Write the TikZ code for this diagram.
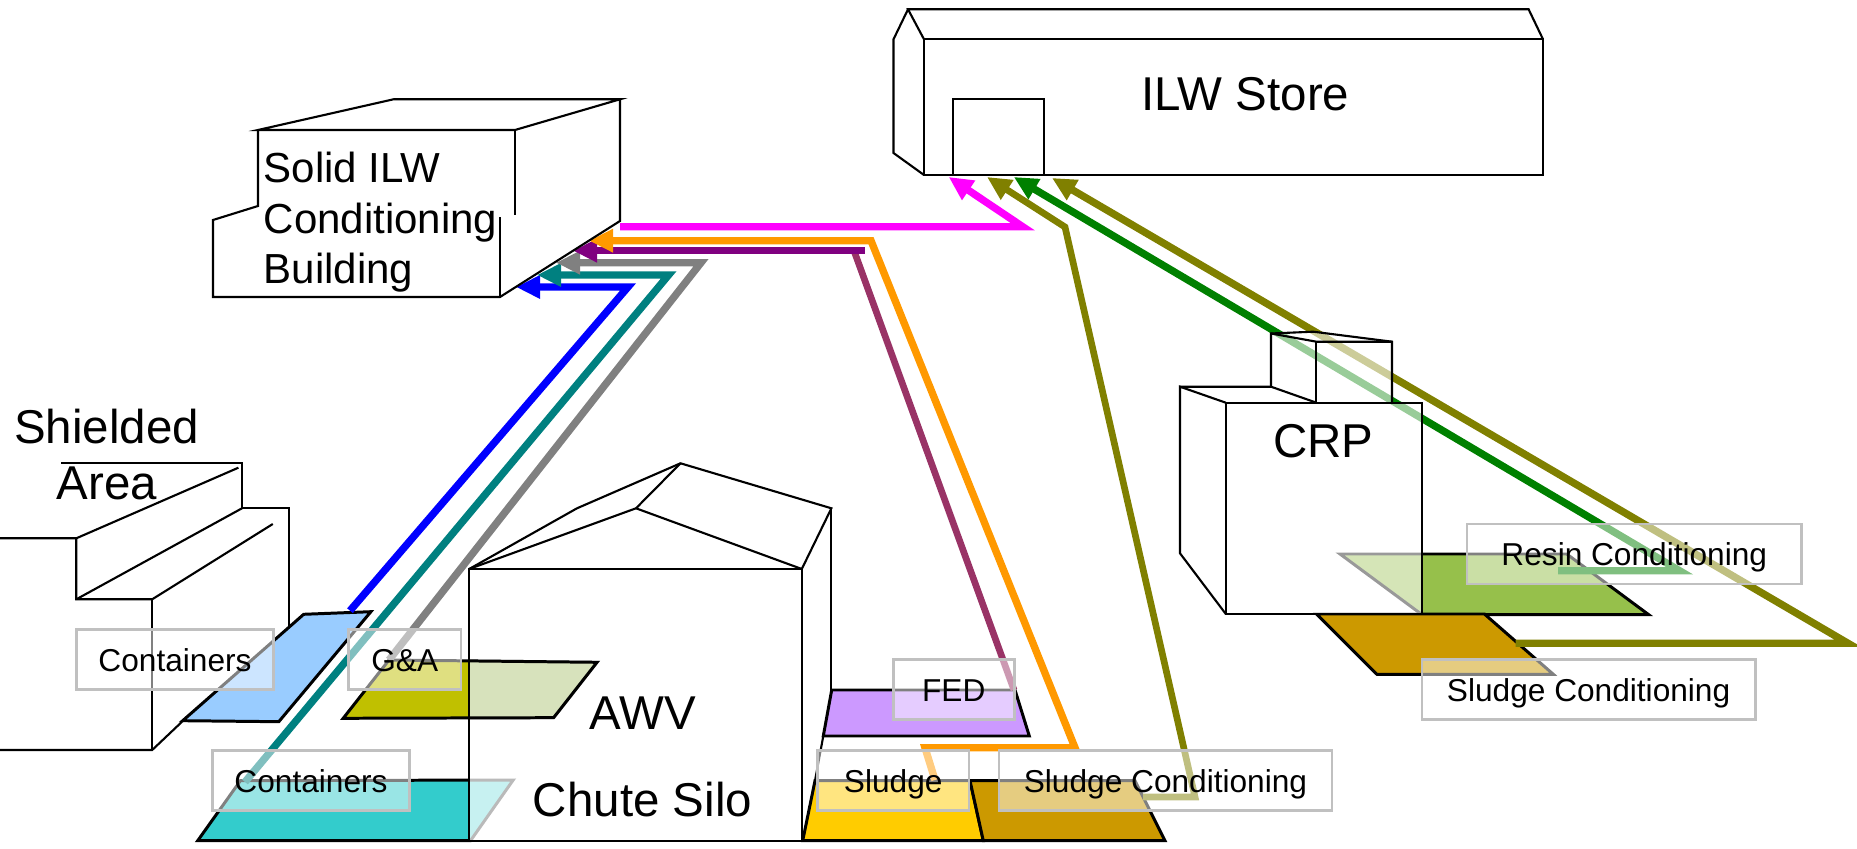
\documentclass[tikz,border=0pt]{standalone}
\usepackage{fontspec}
\setmainfont{Liberation Sans}
\usetikzlibrary{arrows.meta}
\definecolor{padblue}{RGB}{153,204,255}
\definecolor{padolive}{RGB}{192,192,0}
\definecolor{padsage}{RGB}{215,226,188}
\definecolor{padcyan}{RGB}{51,204,204}
\definecolor{padlilac}{RGB}{204,153,255}
\definecolor{padyellow}{RGB}{255,204,0}
\definecolor{padbrown}{RGB}{204,153,0}
\definecolor{padgreen}{RGB}{150,192,75}
\definecolor{tagframe}{RGB}{192,192,192}
\definecolor{flowblue}{RGB}{0,0,255}
\definecolor{flowteal}{RGB}{0,128,128}
\definecolor{flowgray}{RGB}{128,128,128}
\definecolor{flowpurple}{RGB}{128,0,128}
\definecolor{flowplum}{RGB}{153,51,102}
\definecolor{floworange}{RGB}{255,153,0}
\definecolor{flowmagenta}{RGB}{255,0,255}
\definecolor{flowolive}{RGB}{128,128,0}
\definecolor{flowgreen}{RGB}{0,128,0}

\begin{document}
\begin{tikzpicture}[x=0.01cm, y=-0.01cm, >={Triangle[length=0.24cm,width=0.22cm]},
		wall/.style={line width=0.6pt},
		glass/.style={fill=white, fill opacity=0.73},
		pad/.style={draw=black, line width=0.85pt},
		flow/.style={line width=2.1pt, ->},
		thinflow/.style={line width=1.9pt, ->},
		tag/.style={draw=tagframe, line width=0.7pt, fill=white, fill opacity=0.5, text opacity=1, inner sep=0pt, minimum height=0.6cm, text height=0.24cm, text depth=0pt, font=\fontsize{9}{11}\selectfont},
		big/.style={font=\fontsize{13.5}{16}\selectfont, inner sep=0pt}]
		\useasboundingbox (0,0) rectangle (1857,849);
		
		\draw[wall] (0,538.3) -- (76.3,538.3) -- (238.4,467.7);
		\draw[wall] (61.3,462.7) -- (242,462.7) -- (242,508.3) -- (288.6,508.3) -- (288.6,628);
		\draw[wall] (76.3,538.3) -- (76.3,599.3) -- (152.2,599.3) -- (272.8,524);
		\draw[wall] (242,508.3) -- (76.3,599.3);
		\draw[wall] (152.2,599.3) -- (152.2,750);
		\draw[wall] (0,750) -- (152.2,750) -- (183,720.8);
		
		\filldraw[pad, fill=padblue] (303.7,614.3) -- (370.9,611.7) -- (278.8,721.7) -- (182.7,720.7) -- cycle;
		\filldraw[pad, fill=padolive] (389,660) -- (597,662.3) -- (553.6,717.7) -- (343.2,718.3) -- cycle;
		\filldraw[pad, fill=padcyan] (240.4,780.7) -- (513.2,780) -- (470.5,840.7) -- (197.7,840.7) -- cycle;
		\filldraw[pad, fill=padlilac] (831.7,690) -- (1015,690) -- (1029.3,736) -- (823.3,736) -- cycle;
		\filldraw[pad, fill=padyellow] (815,780.7) -- (970,780.7) -- (983.3,840.7) -- (802.7,840.7) -- cycle;
		\filldraw[pad, fill=padbrown] (970,780.7) -- (1135,780.7) -- (1165,840.7) -- (983.3,840.7) -- cycle;
		\filldraw[pad, fill=padgreen] (1340,554) -- (1566.7,554) -- (1648.7,614.7) -- (1422,614.7) -- cycle;
		\filldraw[pad, fill=padbrown] (1316.4,614) -- (1484.4,614) -- (1553.3,674.3) -- (1376.9,674.3) -- cycle;
		
		\coordinate (blueFrom) at (350,610.7);
		\coordinate (blueTo) at (516,287);
		\coordinate (tealFrom) at (245,782);
		\coordinate (tealTo) at (537,275);
		\coordinate (grayFrom) at (389,660);
		\coordinate (grayTo) at (556,262.7);
		\coordinate (plumFrom) at (1014,690);
		\coordinate (plumBend) at (854,250.7);
		\coordinate (purpleTo) at (573,250.7);
		\coordinate (orangeFrom) at (935,780);
		\coordinate (orangeTo) at (589,240.7);
		\coordinate (magentaFrom) at (620,226.7);
		\coordinate (magentaTo) at (948.7,177);
		\coordinate (oliveFrom) at (1143,797);
		\coordinate (oliveTo) at (987,177);
		\coordinate (greenFrom) at (1558,570.7);
		\coordinate (greenTo) at (1013.8,177);
		\coordinate (crpFrom) at (1515.6,643.3);
		\coordinate (crpTo) at (1052,178);
		
		\draw[flow, flowblue] (blueFrom) -- (628,287) -- (blueTo);
		\draw[flow, flowteal] (tealFrom) -- (668.6,275) -- (tealTo);
		\draw[flow, flowgray] (grayFrom) -- (701,262.7) -- (grayTo);
		\draw[line width=1.9pt, flowplum] (plumFrom) -- (plumBend);
		\draw[flow, flowpurple] ([xshift=3pt]plumBend) -- (purpleTo);
		\draw[flow, floworange] (orangeFrom) -- (925,747.7) -- (1075,747.7) -- (871,240.7) -- (orangeTo);
		\draw[flow, flowmagenta] (magentaFrom) -- (1022.7,226.7) -- (magentaTo);
		\draw[thinflow, flowolive] (oliveFrom) -- (1195,797) -- (1065,227) -- (oliveTo);
		\draw[flow, flowgreen] (greenFrom) -- (1679.5,570.7) -- (greenTo);
		\draw[flow, flowolive] (crpFrom) -- (1848,643.3) -- (crpTo);
		
		\fill[glass] (258,130) -- (393.5,99.3) -- (620,99.3) -- (620,221) -- (500,297) -- (213,297) -- (213,220) -- (258,206) -- cycle;
		\draw[wall] (258,130) -- (393.5,99.3) -- (620,99.3) -- (515,130) -- cycle;
		\draw[wall] (620,99.3) -- (620,221) -- (500,297) -- (213,297) -- (213,220) -- (258,206) -- (258,130);
		\draw[wall] (515,130) -- (515,215);
		\draw[wall] (500,297) -- (500,217);
		\node[anchor=north west, inner sep=0pt, align=left, font=\fontsize{11.95}{14.4}\selectfont] (solid) at (263,151.5) {Solid ILW\\Conditioning\\Building};
		
		\fill[glass] (893.5,39.3) -- (908,9.3) -- (1528.6,9.3) -- (1543,39.3) -- (1543,175) -- (923,175) -- (893.5,153) -- cycle;
		\draw[wall] (924,39.3) rectangle (1543,175);
		\draw[wall] (924,39.3) -- (908,9.3) -- (1528.6,9.3) -- (1543,39.3);
		\draw[wall] (908,9.3) -- (893.5,39.3) -- (893.5,153) -- (924,175);
		\draw[wall] (953.4,99.3) rectangle (1044,175);
		\node[big, anchor=base] (store) at (1245.5,110.7) {ILW Store};
		
		\fill[glass] (469.2,569) rectangle (801.8,840.7);
		\filldraw[pad, fill=padsage] (469.2,660.9) -- (597,662.3) -- (553.6,717.7) -- (469.2,717.9);
		\draw[wall] (469.2,569) rectangle (801.8,840.7);
		\draw[wall] (469.2,569) -- (577,508.3) -- (680.5,463.3) -- (831.4,508.3) -- (801.8,569);
		\draw[wall] (469.2,569) -- (636,508.3) -- (801.8,569);
		\draw[wall] (636,508.3) -- (680.5,463.3);
		\draw[wall] (831.4,508.3) -- (831.4,690);
		\draw[wall] (823.3,736) -- (815,780.7);
		\node[big, anchor=base] (awv) at (643,729) {AWV};
		\node[big, anchor=base] (silo) at (642.5,816.7) {Chute Silo};
		
		\fill[glass, fill opacity=0.6] (1180,386.7) -- (1271,386.7) -- (1271,333.5) -- (1313.3,331.7) -- (1392,341.7) -- (1392,402.7) -- (1422.2,402.7) -- (1422.2,614) -- (1225.8,614) -- (1180,553.3) -- cycle;
		\draw[wall] (1225.8,402.7) rectangle (1422.2,614);
		\draw[wall] (1225.8,402.7) -- (1180,386.7) -- (1180,553.3) -- (1225.8,614);
		\draw[wall] (1180,386.7) -- (1271,386.7) -- (1316.4,402.7);
		\draw[wall] (1271,386.7) -- (1271,333.5) -- (1313.3,331.7) -- (1392,341.7) -- (1392,402.7);
		\draw[wall] (1271,333.5) -- (1316.4,341.7) -- (1392,341.7);
		\draw[wall] (1316.4,341.7) -- (1316.4,402.7);
		\node[big, anchor=base] (crp) at (1323.5,457.7) {CRP};
		
		\node[big, anchor=base] (shielded) at (106.7,443.3) {Shielded};
		\node[big, anchor=base] (area) at (106.8,500) {Area};
		
		\node[tag, minimum width=1.973cm] (contA) at (175,659.3) {Containers};
		\node[tag, minimum width=1.126cm] (gna) at (404.7,659.3) {G\&A};
		\node[tag, minimum width=1.966cm] (contB) at (311,780.3) {Containers};
		\node[tag, minimum width=1.21cm] (fed) at (953.8,689.7) {FED};
		\node[tag, minimum width=1.517cm] (sludge) at (893.2,780.7) {Sludge};
		\node[tag, minimum width=3.33cm] (sludgecond) at (1165.5,780.7) {Sludge Conditioning};
		\node[tag, minimum width=3.345cm] (resincond) at (1634.3,553.8) {Resin Conditioning};
		\node[tag, minimum width=3.332cm] (crpsludge) at (1588.6,689.7) {Sludge Conditioning};
	\end{tikzpicture}
\end{document}
